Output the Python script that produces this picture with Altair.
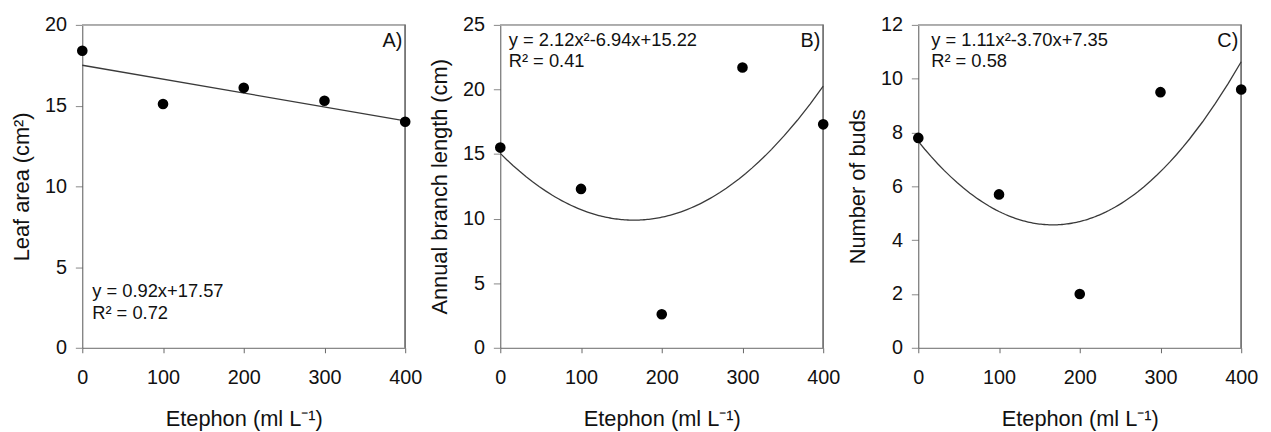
import altair as alt
import pandas as pd

# ---- data ----
dose = [0, 100, 200, 300, 400]
leaf_area = [18.4, 15.1, 16.1, 15.3, 14.0]
branch_length = [15.5, 12.3, 2.6, 21.7, 17.3]
buds = [7.8, 5.7, 2.0, 9.5, 9.6]

y_titles = ["Leaf area (cm²)", "Annual branch length (cm)", "Number of buds"]
y_max = [20, 25, 12]
y_step = [5, 5, 2]
fit_order = [1, 2, 2]
tags = ["A)", "B)", "C)"]
equations = ["y = 0.92x+17.57", "y = 2.12x²-6.94x+15.22", "y = 1.11x²-3.70x+7.35"]
r_squared = ["R² = 0.72", "R² = 0.41", "R² = 0.58"]
x_ticks = [0, 100, 200, 300, 400]
x_title = "Etephon (ml L⁻¹)"

FONT = "Liberation Sans"
W, H = 326, 326
# annotation placement (pixels inside each plot area)
eq_pos = [(10, 275), (8.5, 21), (13, 21.5)]


def panel(i, values):
    df = pd.DataFrame({"dose": dose, "value": values})
    xenc = alt.X(
        "dose:Q",
        scale=alt.Scale(domain=[0, 400], nice=False, zero=False),
        axis=alt.Axis(values=x_ticks, title=x_title),
    )
    yenc = alt.Y(
        "value:Q",
        scale=alt.Scale(domain=[0, y_max[i]], nice=False),
        axis=alt.Axis(values=list(range(0, y_max[i] + 1, y_step[i])), title=y_titles[i]),
    )
    base = alt.Chart(df)
    if fit_order[i] == 1:
        reg = base.transform_regression("dose", "value", method="linear", extent=[0, 400])
    else:
        reg = base.transform_regression("dose", "value", method="poly", order=2, extent=[0, 400])
    fit = reg.mark_line(color="#3a3a3a", strokeWidth=1.3).encode(x=xenc, y=yenc)
    pts = base.mark_circle(size=115, color="black", opacity=1).encode(x=xenc, y=yenc)

    top = base.mark_rule(color="#aaaaaa", strokeWidth=1).encode(
        x=alt.value(0), x2=alt.value(W), y=alt.value(0)
    )
    right = base.mark_rule(color="#777777", strokeWidth=1).encode(
        x=alt.value(W), y=alt.value(0), y2=alt.value(H)
    )

    ex, ey = eq_pos[i]
    eq_df = pd.DataFrame({"t": [equations[i] + "\n" + r_squared[i]]})
    eq = alt.Chart(eq_df).mark_text(
        align="left", baseline="alphabetic", font=FONT, fontSize=18.5,
        lineBreak="\n", lineHeight=21.5, color="#111111",
    ).encode(text="t:N", x=alt.value(ex), y=alt.value(ey))

    tag_df = pd.DataFrame({"t": [tags[i]]})
    tag = alt.Chart(tag_df).mark_text(
        align="right", baseline="alphabetic", font=FONT, fontSize=20, color="#111111",
    ).encode(text="t:N", x=alt.value(W - 3), y=alt.value(22))

    return alt.layer(top, right, fit, pts, eq, tag).properties(width=W, height=H)


chart = alt.hconcat(
    panel(0, leaf_area), panel(1, branch_length), panel(2, buds), spacing=6
).properties(
    padding={"left": 2, "top": 5, "right": 5, "bottom": 5}
).configure_view(
    stroke=None
).configure_axis(
    labelFont=FONT, titleFont=FONT, labelFontSize=20, titleFontSize=22,
    labelColor="#111111", titleColor="#111111", titleFontWeight="normal",
    grid=False,
).configure_axisX(
    domainColor="#666666", tickColor="#666666", tickSize=5, labelPadding=15,
    titlePadding=21, labelFlush=False,
).configure_axisY(
    domainColor="#555555", tickColor="#888888", tickSize=7, labelPadding=9,
    titlePadding=11, labelFlush=False,
)

chart.save("out.html", embed_options={"renderer": "svg", "actions": False})
